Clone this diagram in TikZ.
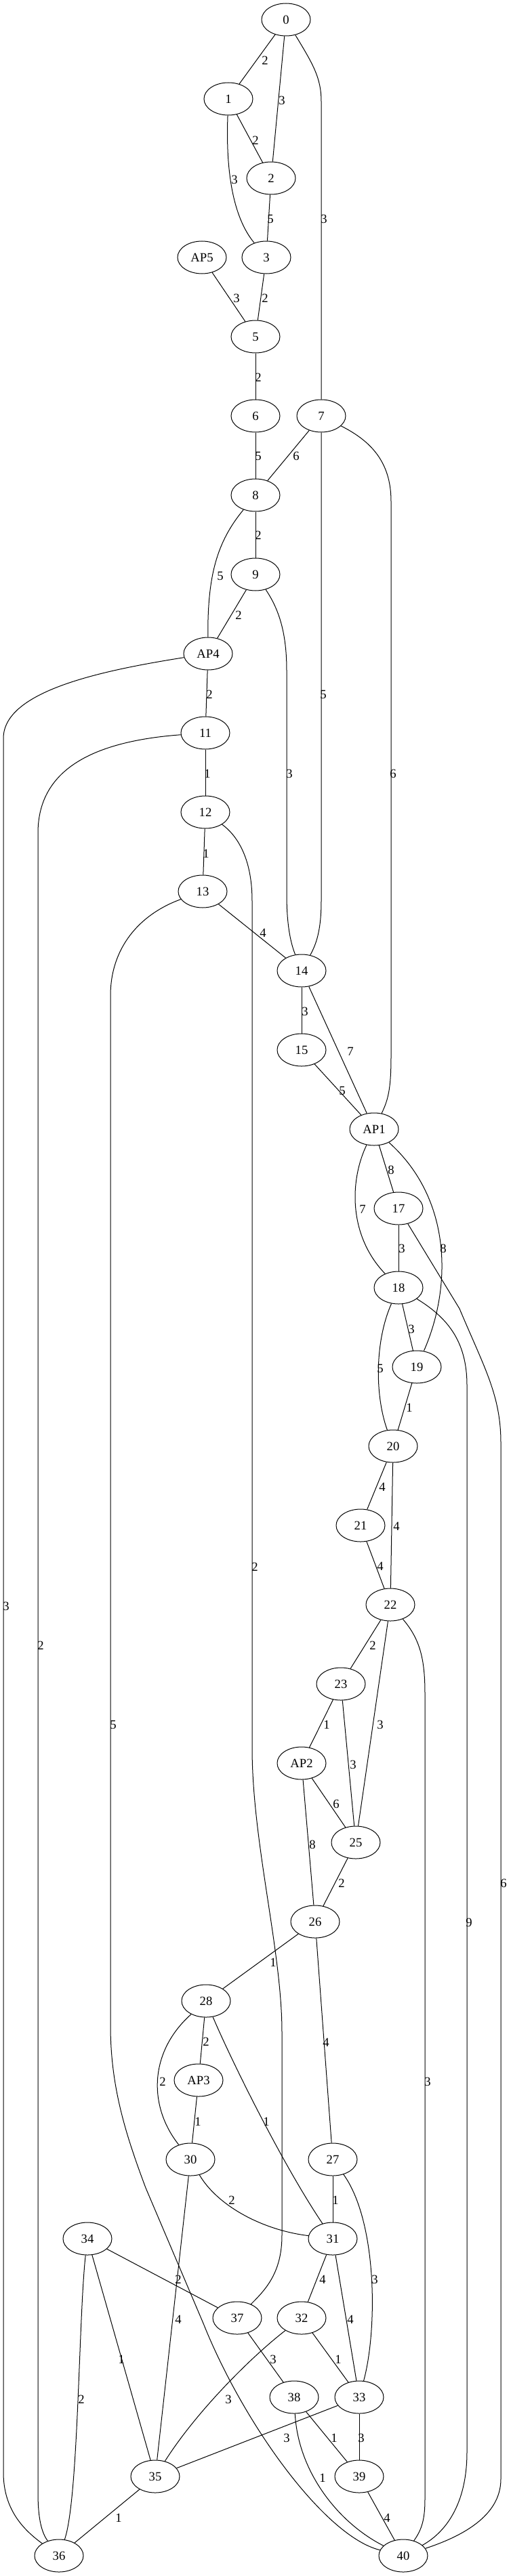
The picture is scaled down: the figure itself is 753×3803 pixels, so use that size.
\documentclass[tikz,border=0pt]{standalone}
\usepackage{fontspec}
\setmainfont{Liberation Serif}
\usepackage{tikz}
\usetikzlibrary{shapes.geometric}

\begin{document}
\begin{tikzpicture}[x=.75pt, y=-.75pt, line width=.75pt,
  vertex/.style={draw, ellipse, minimum width=54pt, minimum height=36pt, inner sep=0pt, font=\fontsize{14}{16}\selectfont},
  elab/.style={inner sep=0pt, font=\fontsize{14}{16}\selectfont}]
\useasboundingbox (0,0) rectangle (753,3803);
\node[vertex] (n0) at (422,29) {0};
\node[vertex] (n1) at (337,146) {1};
\node[vertex] (n2) at (400,263) {2};
\node[vertex] (nAP5) at (298,380) {AP5};
\node[vertex] (n3) at (393,380) {3};
\node[vertex] (n5) at (377,497) {5};
\node[vertex] (n6) at (377,614) {6};
\node[vertex] (n7) at (474,614) {7};
\node[vertex] (n8) at (377,731) {8};
\node[vertex] (n9) at (377,848) {9};
\node[vertex] (nAP4) at (307,965) {AP4};
\node[vertex] (n11) at (303,1082) {11};
\node[vertex] (n12) at (303,1199) {12};
\node[vertex] (n13) at (299,1316) {13};
\node[vertex] (n14) at (445,1433) {14};
\node[vertex] (n15) at (445,1550) {15};
\node[vertex] (nAP1) at (552,1667) {AP1};
\node[vertex] (n17) at (588,1784) {17};
\node[vertex] (n18) at (588,1901) {18};
\node[vertex] (n19) at (615,2018) {19};
\node[vertex] (n20) at (580,2135) {20};
\node[vertex] (n21) at (532,2252) {21};
\node[vertex] (n22) at (576,2369) {22};
\node[vertex] (n23) at (503,2486) {23};
\node[vertex] (nAP2) at (445,2603) {AP2};
\node[vertex] (n25) at (525,2720) {25};
\node[vertex] (n26) at (465,2837) {26};
\node[vertex] (n28) at (304,2954) {28};
\node[vertex] (nAP3) at (293,3071) {AP3};
\node[vertex] (n30) at (281,3188) {30};
\node[vertex] (n27) at (491,3188) {27};
\node[vertex] (n34) at (129,3305) {34};
\node[vertex] (n31) at (491,3305) {31};
\node[vertex] (n37) at (350,3422) {37};
\node[vertex] (n32) at (445,3422) {32};
\node[vertex] (n38) at (434,3539) {38};
\node[vertex] (n33) at (530,3539) {33};
\node[vertex] (n35) at (229,3656) {35};
\node[vertex] (n39) at (530,3656) {39};
\node[vertex] (n36) at (87,3773) {36};
\node[vertex] (n40) at (595,3773) {40};
\draw (n0) -- (n1) node[elab] at (391,89) {2};
\draw (n0) -- (n2) node[elab] at (416,148) {3};
\draw (n0) .. controls (462,95) and (474,115) .. (474,150) -- (n7) node[elab] at (478,323) {3};
\draw (n1) -- (n2) node[elab] at (377,207) {2};
\draw (n1) .. controls (333,250) and (343,320) .. (n3) node[elab] at (346,265) {3};
\draw (n2) -- (n3) node[elab] at (399,323) {5};
\draw (nAP5) -- (n5) node[elab] at (349,440) {3};
\draw (n3) -- (n5) node[elab] at (391,440) {2};
\draw (n5) -- (n6) node[elab] at (381,557) {2};
\draw (n6) -- (n8) node[elab] at (381,673) {5};
\draw (n7) -- (n8) node[elab] at (437,673) {6};
\draw (n7) -- (474,1330) .. controls (474,1375) and (466,1395) .. (n14) node[elab] at (477,1025) {5};
\draw (n7) .. controls (545,650) and (577,680) .. (577,740) -- (577,1560) .. controls (577,1610) and (572,1625) .. (nAP1) node[elab] at (580,1142) {6};
\draw (n8) -- (n9) node[elab] at (381,790) {2};
\draw (n8) .. controls (320,800) and (306,850) .. (nAP4) node[elab] at (325,850) {5};
\draw (n9) -- (nAP4) node[elab] at (352,908) {2};
\draw (n9) .. controls (412,900) and (423,935) .. (423,990) -- (423,1320) .. controls (423,1370) and (430,1395) .. (n14) node[elab] at (427,1142) {3};
\draw (nAP4) .. controls (150,990) and (5,1020) .. (5,1090) -- (5,3650) .. controls (5,3705) and (35,3735) .. (n36) node[elab] at (9,2371) {3};
\draw (nAP4) -- (n11) node[elab] at (309,1025) {2};
\draw (n11) -- (n12) node[elab] at (306,1142) {1};
\draw (n11) .. controls (130,1095) and (56,1140) .. (56,1230) -- (56,3680) .. controls (56,3720) and (62,3740) .. (n36) node[elab] at (60,2429) {2};
\draw (n12) -- (n13) node[elab] at (304,1260) {1};
\draw (n12) .. controls (352,1235) and (372,1270) .. (372,1330) -- (372,2580) .. controls (372,2720) and (416,2880) .. (416,3000) -- (416,3300) .. controls (416,3355) and (392,3380) .. (n37) node[elab] at (376,2313) {2};
\draw (n13) -- (n14) node[elab] at (388,1377) {4};
\draw (n13) .. controls (205,1350) and (163,1400) .. (163,1470) -- (163,2990) .. controls (163,3080) and (185,3150) .. (215,3230) -- (300,3430) .. controls (360,3580) and (480,3745) .. (n40) node[elab] at (167,2546) {5};
\draw (n14) -- (n15) node[elab] at (450,1493) {3};
\draw (n14) -- (nAP1) node[elab] at (517,1552) {7};
\draw (n15) -- (nAP1) node[elab] at (505,1610) {5};
\draw (nAP1) -- (n17) node[elab] at (577,1727) {8};
\draw (nAP1) .. controls (515,1745) and (515,1825) .. (n18) node[elab] at (535,1785) {7};
\draw (nAP1) .. controls (667,1770) and (667,1900) .. (n19) node[elab] at (654,1843) {8};
\draw (n17) -- (n18) node[elab] at (593,1843) {3};
\draw (n17) -- (678,1932) .. controls (715,2020) and (739,2060) .. (739,2130) -- (739,3660) .. controls (739,3715) and (680,3745) .. (n40) node[elab] at (743,2780) {6};
\draw (n18) -- (n19) node[elab] at (607,1962) {3};
\draw (n18) .. controls (553,1980) and (553,2060) .. (n20) node[elab] at (561,2020) {5};
\draw (n18) .. controls (660,1945) and (689,1980) .. (689,2045) -- (689,3620) .. controls (689,3700) and (655,3740) .. (n40) node[elab] at (692,2838) {9};
\draw (n19) -- (n20) node[elab] at (604,2078) {1};
\draw (n20) -- (n21) node[elab] at (564,2195) {4};
\draw (n20) -- (n22) node[elab] at (585,2253) {4};
\draw (n21) -- (n22) node[elab] at (561,2312) {4};
\draw (n22) -- (n23) node[elab] at (550,2429) {2};
\draw (n22) -- (n25) node[elab] at (561,2546) {3};
\draw (n22) .. controls (620,2420) and (627,2450) .. (627,2500) -- (627,3690) .. controls (627,3720) and (622,3735) .. (n40) node[elab] at (631,3073) {3};
\draw (n23) -- (nAP2) node[elab] at (482,2546) {1};
\draw (n23) -- (n25) node[elab] at (521,2605) {3};
\draw (nAP2) -- (n25) node[elab] at (496,2663) {6};
\draw (nAP2) -- (n26) node[elab] at (461,2723) {8};
\draw (n25) -- (n26) node[elab] at (504,2780) {2};
\draw (n26) -- (n28) node[elab] at (403,2897) {1};
\draw (n26) -- (n27) node[elab] at (481,3015) {4};
\draw (n28) -- (nAP3) node[elab] at (304,3014) {2};
\draw (n28) .. controls (219,3030) and (219,3110) .. (n30) node[elab] at (240,3073) {2};
\draw (n28) .. controls (345,3050) and (420,3200) .. (n31) node[elab] at (393,3132) {1};
\draw (nAP3) -- (n30) node[elab] at (292,3132) {1};
\draw (n30) .. controls (320,3255) and (385,3292) .. (n31) node[elab] at (342,3248) {2};
\draw (n30) -- (n35) node[elab] at (263,3424) {4};
\draw (n27) -- (n31) node[elab] at (495,3248) {1};
\draw (n27) .. controls (557,3280) and (557,3440) .. (n33) node[elab] at (553,3365) {3};
\draw (n34) -- (n37) node[elab] at (263,3365) {2};
\draw (n34) -- (n35) node[elab] at (179,3483) {1};
\draw (n34) .. controls (116,3420) and (116,3690) .. (n36) node[elab] at (120,3542) {2};
\draw (n31) -- (n32) node[elab] at (476,3365) {4};
\draw (n31) -- (n33) node[elab] at (517,3424) {4};
\draw (n37) -- (n38) node[elab] at (403,3483) {3};
\draw (n32) -- (n33) node[elab] at (499,3483) {1};
\draw (n32) .. controls (370,3480) and (290,3560) .. (n35) node[elab] at (337,3542) {3};
\draw (n38) -- (n39) node[elab] at (493,3599) {1};
\draw (n38) .. controls (440,3650) and (500,3725) .. (n40) node[elab] at (476,3658) {1};
\draw (n33) -- (n35) node[elab] at (423,3599) {3};
\draw (n33) -- (n39) node[elab] at (533,3599) {3};
\draw (n35) -- (n36) node[elab] at (175,3717) {1};
\draw (n39) -- (n40) node[elab] at (571,3717) {4};
\end{tikzpicture}
\end{document}
